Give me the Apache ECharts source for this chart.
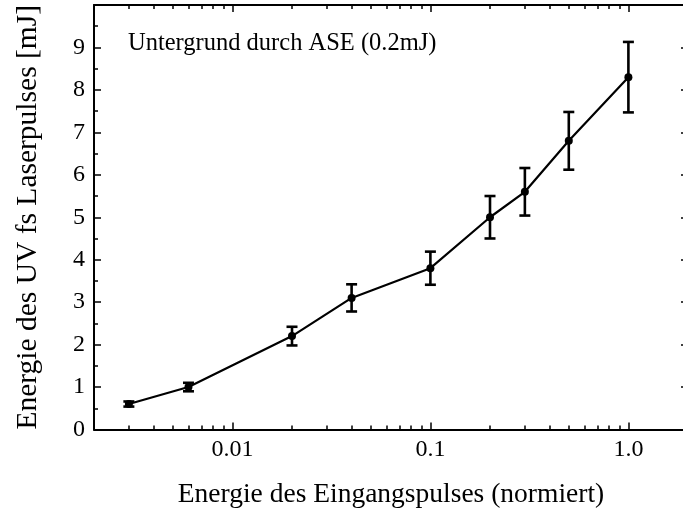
<!DOCTYPE html>
<html>
<head>
<meta charset="utf-8">
<script src="https://cdn.jsdelivr.net/npm/echarts@6/dist/echarts.min.js"></script>
<style>
  html, body { margin: 0; padding: 0; background: #fff; }
  #chart { width: 683px; height: 510px; }
</style>
</head>
<body>
<div id="chart"></div>
<script>
// Input energy (normalised) and UV output energy in mJ with its uncertainty
const inputEnergy = [0.003, 0.006, 0.02, 0.04, 0.1, 0.2, 0.3, 0.5, 1.0];
const uvEnergy    = [0.6, 1.0, 2.2, 3.1, 3.8, 5.0, 5.6, 6.8, 8.3];
const uvError     = [0.06, 0.1, 0.22, 0.32, 0.39, 0.5, 0.56, 0.68, 0.83];

// Logarithmic x range and ticks
const xRange = [0.002, 2];
const xMajorTicks = [0.01, 0.1, 1];
const xMajorLabels = ['0.01', '0.1', '1.0'];
const xMinorTicks = [
  0.002, 0.003, 0.004, 0.005, 0.006, 0.007, 0.008, 0.009,
  0.02, 0.03, 0.04, 0.05, 0.06, 0.07, 0.08, 0.09,
  0.2, 0.3, 0.4, 0.5, 0.6, 0.7, 0.8, 0.9, 2
];
const yTicks = [0, 1, 2, 3, 4, 5, 6, 7, 8, 9];

const title = 'Untergrund durch ASE (0.2mJ)';
const xName = 'Energie des Eingangspulses (normiert)';
const yName = 'Energie des UV fs Laserpulses [mJ]';

const lg = v => Math.log10(v);
const FONT = '"Liberation Serif", "Times New Roman", serif';
const INK = '#000';

const xMin = lg(xRange[0]);
const xMax = lg(xRange[1]);
const majorLog = xMajorTicks.map(lg);
const minorLog = xMinorTicks.map(lg);

function xLabel(v) {
  let best = 0;
  majorLog.forEach((m, i) => { if (Math.abs(m - v) < Math.abs(majorLog[best] - v)) best = i; });
  return xMajorLabels[best];
}

function xAxisDef(position, major, extra) {
  return Object.assign({
    type: 'value',
    position: position,
    min: xMin,
    max: xMax,
    axisLine: { show: major, onZero: false, lineStyle: { color: INK, width: 2 } },
    axisTick: {
      show: true, inside: true,
      length: major ? 7 : 4,
      customValues: major ? majorLog : minorLog,
      lineStyle: { color: INK, width: 1.5 }
    },
    axisLabel: { show: false },
    splitLine: { show: false }
  }, extra || {});
}

function yAxisDef(position, labels) {
  return {
    type: 'value',
    position: position,
    min: 0,
    max: 10,
    interval: 1,
    axisLine: { show: true, onZero: false, lineStyle: { color: INK, width: 2 } },
    axisTick: { show: true, inside: true, length: 7, lineStyle: { color: INK, width: 1.5 } },
    minorTick: { show: true, splitNumber: 2, length: 4, lineStyle: { color: INK, width: 1.5 } },
    axisLabel: labels ? {
      show: true, customValues: yTicks, margin: 9,
      color: INK, fontFamily: FONT, fontSize: 24
    } : { show: false },
    splitLine: { show: false },
    name: labels ? yName : '',
    nameLocation: 'middle',
    nameGap: 51,
    nameTextStyle: { color: INK, fontFamily: FONT, fontSize: 29.5 }
  };
}

const lineData = inputEnergy.map((x, i) => [lg(x), uvEnergy[i]]);
const errData = inputEnergy.map((x, i) => [lg(x), uvEnergy[i] - uvError[i], uvEnergy[i] + uvError[i]]);

const chart = echarts.init(document.getElementById('chart'), null, { renderer: 'canvas' });
chart.setOption({
  animation: false,
  backgroundColor: '#fff',
  grid: {
    left: 94, top: 5, width: 594, height: 424.5,
    containLabel: false, outerBoundsMode: 'none'
  },
  xAxis: [
    xAxisDef('bottom', true, {
      axisLabel: {
        show: true, customValues: majorLog, margin: 8,
        color: INK, fontFamily: FONT, fontSize: 24,
        formatter: xLabel
      },
      name: xName,
      nameLocation: 'middle',
      nameGap: 51,
      nameTextStyle: { color: INK, fontFamily: FONT, fontSize: 27.5 }
    }),
    xAxisDef('bottom', false),
    xAxisDef('top', true),
    xAxisDef('top', false)
  ],
  yAxis: [yAxisDef('left', true), yAxisDef('right', false)],
  graphic: [{
    type: 'text',
    left: 128,
    top: 31,
    style: { text: title, fill: INK, font: '24.5px ' + FONT }
  }],
  series: [
    {
      type: 'custom',
      xAxisIndex: 0,
      yAxisIndex: 0,
      data: errData,
      z: 3,
      renderItem: function (params, api) {
        const lo = api.coord([api.value(0), api.value(1)]);
        const hi = api.coord([api.value(0), api.value(2)]);
        const cap = 5.5;
        const style = { stroke: INK, lineWidth: 2.6, fill: null };
        return {
          type: 'group',
          children: [
            { type: 'line', shape: { x1: lo[0], y1: lo[1], x2: hi[0], y2: hi[1] }, style: style },
            { type: 'line', shape: { x1: lo[0] - cap, y1: lo[1], x2: lo[0] + cap, y2: lo[1] }, style: style },
            { type: 'line', shape: { x1: hi[0] - cap, y1: hi[1], x2: hi[0] + cap, y2: hi[1] }, style: style }
          ]
        };
      }
    },
    {
      type: 'line',
      xAxisIndex: 0,
      yAxisIndex: 0,
      data: lineData,
      z: 4,
      symbol: 'circle',
      symbolSize: 8,
      itemStyle: { color: INK },
      lineStyle: { color: INK, width: 2.2 }
    }
  ]
});
</script>
</body>
</html>
